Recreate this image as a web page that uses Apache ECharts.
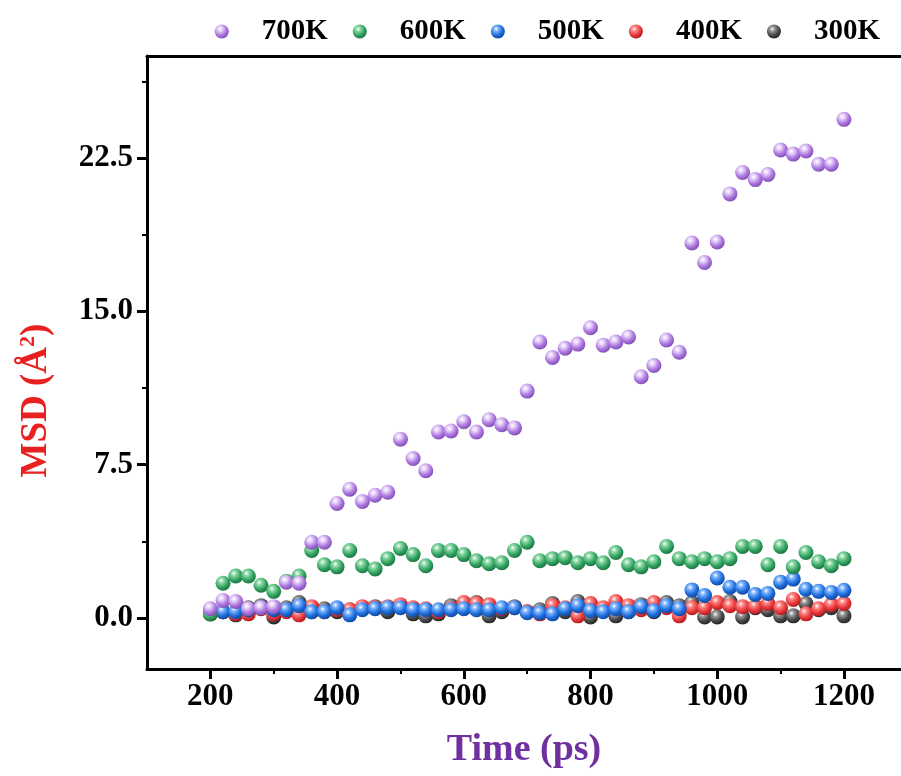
<!DOCTYPE html>
<html>
<head>
<meta charset="utf-8">
<script src="https://cdn.jsdelivr.net/npm/echarts@6/dist/echarts.min.js"></script>
<style>
html,body{margin:0;padding:0;background:#fff;}
#chart{width:901px;height:776px;}
</style>
</head>
<body>
<div id="chart"></div>
<script>
const times = [200,220,240,260,280,300,320,340,360,380,400,420,440,460,480,500,520,540,560,580,600,620,640,660,680,700,720,740,760,780,800,820,840,860,880,900,920,940,960,980,1000,1020,1040,1060,1080,1100,1120,1140,1160,1180,1200];
const msd700 = [0.45,0.85,0.8,0.45,0.5,0.55,1.75,1.7,3.7,3.7,5.6,6.3,5.7,6.0,6.15,8.75,7.8,7.2,9.1,9.15,9.6,9.1,9.7,9.45,9.3,11.1,13.5,12.75,13.2,13.4,14.2,13.35,13.5,13.75,11.8,12.35,13.6,13.0,18.35,17.4,18.4,20.75,21.8,21.45,21.7,22.9,22.7,22.85,22.2,22.2,24.4];
const msd600 = [0.2,1.7,2.05,2.05,1.6,1.3,1.8,2.05,3.3,2.6,2.5,3.3,2.55,2.4,2.9,3.4,3.1,2.55,3.3,3.3,3.1,2.8,2.65,2.7,3.3,3.7,2.8,2.9,2.95,2.7,2.9,2.7,3.2,2.6,2.5,2.75,3.5,2.9,2.75,2.9,2.75,2.9,3.5,3.5,2.6,3.5,2.5,3.2,2.75,2.55,2.9];
const msd500 = [0.3,0.3,0.3,0.4,0.5,0.4,0.4,0.6,0.3,0.3,0.5,0.15,0.4,0.45,0.5,0.5,0.4,0.4,0.4,0.4,0.45,0.4,0.4,0.5,0.5,0.25,0.25,0.2,0.45,0.6,0.35,0.3,0.45,0.3,0.55,0.35,0.6,0.45,1.37,1.1,1.95,1.5,1.5,1.15,1.2,1.75,1.9,1.4,1.3,1.25,1.35];
const msd400 = [0.2,0.3,0.2,0.2,0.45,0.2,0.3,0.15,0.55,0.3,0.4,0.4,0.55,0.5,0.55,0.65,0.5,0.45,0.3,0.45,0.75,0.7,0.65,0.45,0.5,0.3,0.2,0.6,0.5,0.1,0.7,0.5,0.8,0.6,0.4,0.75,0.5,0.1,0.5,0.5,0.75,0.6,0.55,0.55,0.7,0.5,0.9,0.2,0.45,0.65,0.7];
const msd300 = [0.2,0.3,0.15,0.5,0.6,0.05,0.5,0.75,0.3,0.45,0.3,0.4,0.5,0.55,0.3,0.55,0.2,0.1,0.2,0.6,0.5,0.75,0.1,0.3,0.55,0.3,0.4,0.7,0.3,0.8,0.05,0.4,0.1,0.3,0.65,0.3,0.75,0.6,0.75,0.05,0.05,0.8,0.05,0.5,0.4,0.1,0.1,0.7,0.4,0.5,0.1];

const seriesNames = ['300K','400K','500K','600K','700K'];
const legendOrder = ['700K','600K','500K','400K','300K'];
const xMajorTicks = [200,400,600,800,1000,1200];
const xMinorTicks = [300,500,700,900,1100];
const yMajorTicks = [0,7.5,15,22.5];
const yMinorTicks = [3.75,11.25,18.75,26.25];

const palette = {
  '300K': ['#9a9a9a','#4a4a4a','#1e1e1e'],
  '400K': ['#ff8a8a','#e83a3c','#a51416'],
  '500K': ['#7fb4ff','#1f6fdc','#0c3f93'],
  '600K': ['#8fd9a8','#33a462','#17693a'],
  '700K': ['#e6d2f9','#ad78df','#7646ab']
};
const dataMap = {'300K': msd300,'400K': msd400,'500K': msd500,'600K': msd600,'700K': msd700};

function sphere(name){
  const c = palette[name];
  return {type:'radial', x:0.38, y:0.32, r:0.75, colorStops:[
    {offset:0, color:'#ffffff'},
    {offset:0.22, color:c[0]},
    {offset:0.6, color:c[1]},
    {offset:1, color:c[2]}
  ]};
}

const font = 'Liberation Serif, Times New Roman, serif';
const chart = echarts.init(document.getElementById('chart'));
chart.setOption({
  animation:false,
  backgroundColor:'#fff',
  legend:{
    data: legendOrder,
    top: 12, right: 16,
    icon:'circle', itemWidth:14, itemHeight:14, itemGap:25,
    textStyle:{fontFamily:font, fontWeight:'bold', fontSize:29, color:'#000', padding:[0,0,0,28]}
  },
  grid:{left:147, top:56, right:0, height:613, show:false},
  xAxis:[{
    type:'value', min:100, max:1290, position:'bottom',
    name:'Time (ps)', nameLocation:'middle', nameGap:62,
    nameTextStyle:{fontFamily:font, fontWeight:'bold', fontSize:38, color:'#7030A0'},
    axisLine:{show:true, onZero:false, lineStyle:{color:'#000', width:3}},
    axisTick:{show:true, length:10, lineStyle:{color:'#000', width:3}, customValues:xMajorTicks},
    axisLabel:{fontFamily:font, fontWeight:'bold', fontSize:31, color:'#000', margin:12, customValues:xMajorTicks,
      formatter:function(v){return String(v);}},
    splitLine:{show:false}
  },{
    type:'value', min:100, max:1290, position:'bottom',
    axisLine:{show:false, onZero:false},
    axisTick:{show:true, length:5, lineStyle:{color:'#000', width:2}, customValues:xMinorTicks},
    axisLabel:{show:false},
    splitLine:{show:false}
  },{
    type:'value', min:100, max:1290, position:'top',
    axisLine:{show:true, onZero:false, lineStyle:{color:'#000', width:3}},
    axisTick:{show:false},
    axisLabel:{show:false},
    splitLine:{show:false}
  }],
  yAxis:[{
    type:'value', min:-2.5, max:27.5, position:'left',
    name:'MSD (Å{sup|2})', nameLocation:'middle', nameGap:92, nameRotate:90,
    nameTextStyle:{fontFamily:font, fontWeight:'bold', fontSize:37, color:'#e8201f', padding:[0,76,0,0],
      rich:{sup:{fontFamily:font, fontWeight:'bold', fontSize:22, color:'#e8201f', verticalAlign:'top', padding:[0,0,16,0]}}},
    axisLine:{show:true, onZero:false, lineStyle:{color:'#000', width:3}},
    axisTick:{show:true, length:10, lineStyle:{color:'#000', width:3}, customValues:yMajorTicks},
    axisLabel:{fontFamily:font, fontWeight:'bold', fontSize:31, color:'#000', margin:14, customValues:yMajorTicks,
      formatter:function(v){return v.toFixed(1);}},
    splitLine:{show:false}
  },{
    type:'value', min:-2.5, max:27.5, position:'left',
    axisLine:{show:false, onZero:false},
    axisTick:{show:true, length:5, lineStyle:{color:'#000', width:2}, customValues:yMinorTicks},
    axisLabel:{show:false},
    splitLine:{show:false}
  }],
  series: seriesNames.map(function(n){
    return {
      name:n, type:'scatter', xAxisIndex:0, yAxisIndex:0,
      symbol:'circle', symbolSize:15,
      itemStyle:{color:sphere(n), opacity:1},
      data: times.map(function(t,i){return [t, dataMap[n][i]];})
    };
  })
});
</script>
</body>
</html>
